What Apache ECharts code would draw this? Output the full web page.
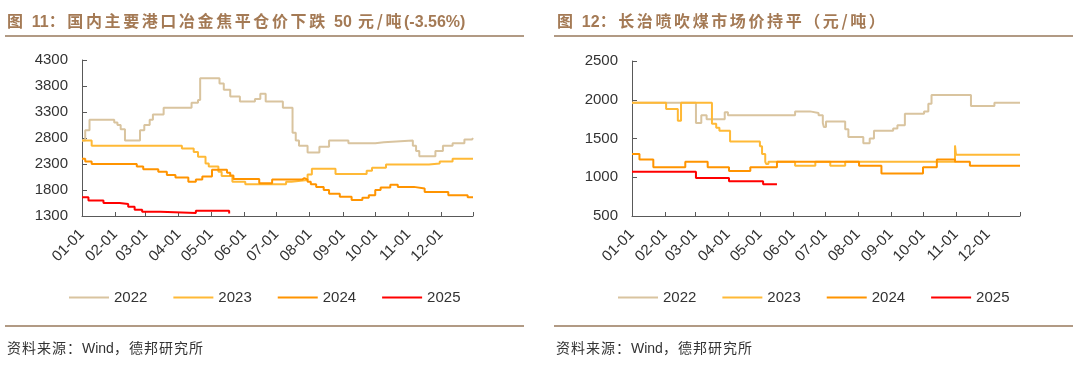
<!DOCTYPE html>
<html>
<head>
<meta charset="utf-8">
<script src="https://cdn.jsdelivr.net/npm/echarts@6/dist/echarts.min.js"></script>
<style>
  html, body { margin: 0; padding: 0; background: #fff; }
  #wrap { position: relative; width: 1080px; height: 366px; overflow: hidden; }
  #chart { position: absolute; left: 0; top: 0; width: 1080px; height: 366px; }
  .title { position: absolute; top: 9px; font-family: "Noto Sans CJK SC", sans-serif; font-weight: bold;
           font-size: 16px; line-height: 22px; color: #a47a55; letter-spacing: 2.6px; white-space: nowrap; }
  .title .num { font-family: "Liberation Sans", Arial, sans-serif; letter-spacing: 0; }
  .rule { position: absolute; height: 2px; background: #b19a84; }
  .src { position: absolute; top: 338px; font-family: "Noto Sans CJK SC", sans-serif; font-size: 14px;
         line-height: 18px; color: #333; letter-spacing: 1px; white-space: nowrap; }
  .src .num { font-family: "Liberation Sans", Arial, sans-serif; letter-spacing: 0; }
</style>
</head>
<body>
<div id="wrap">
  <div id="chart"></div>
  <div class="title" style="left:7px">图 <span class="num">11</span>：国内主要港口冶金焦平仓价下跌 <span class="num">50</span> 元/吨<span class="num">(-3.56%)</span></div>
  <div class="title" style="left:557px">图 <span class="num">12</span>：长治喷吹煤市场价持平（元/吨）</div>
  <div class="rule" style="left:5px; width:519px; top:35px"></div>
  <div class="rule" style="left:554px; width:519px; top:35px"></div>
  <div class="rule" style="left:5px; width:519px; top:325px"></div>
  <div class="rule" style="left:554px; width:519px; top:325px"></div>
  <div class="src" style="left:7px">资料来源：<span class="num">Wind</span>，德邦研究所</div>
  <div class="src" style="left:556px">资料来源：<span class="num">Wind</span>，德邦研究所</div>
</div>
<script>
// ---- tick labels ----
const monthTicks = ['01-01','02-01','03-01','04-01','05-01','06-01','07-01','08-01','09-01','10-01','11-01','12-01'];
const seriesNames = ['2022','2023','2024','2025'];
const leftTicks = [1300, 4300, 500];   // min, max, interval
const rightTicks = [500, 2500, 500];

// ---- chart 1: 国内主要港口冶金焦平仓价 (元/吨), step points [MM-DD, value] ----
const coke2022 = [['01-01',2750],['01-04',2950],['01-08',3150],['01-31',3100],['02-03',3050],['02-06',2970],['02-10',2750],['02-24',2950],['02-28',3050],['03-05',3150],['03-08',3250],['03-18',3380],['04-13',3480],['04-19',3530],['04-21',3950],['05-09',3850],['05-13',3730],['05-19',3600],['05-28',3500],['06-11',3550],['06-16',3650],['06-21',3500],['07-07',3380],['07-16',2900],['07-19',2750],['07-22',2650],['07-30',2520],['08-10',2630],['08-19',2750],['09-06',2700],['10-01',2720],['10-09',2750],['11-05',2650],['11-08',2550],['11-11',2450],['11-26',2550],['12-03',2650],['12-12',2700],['12-23',2770],['12-30',2800],['12-31',2800]];
const coke2023 = [['01-01',2750],['01-10',2650],['04-04',2600],['04-15',2530],['04-19',2440],['04-26',2310],['04-29',2250],['05-08',2150],['05-11',2070],['05-21',1960],['06-02',1910],['07-10',1960],['07-15',1990],['07-30',2100],['08-03',2210],['08-25',2110],['09-23',2170],['09-28',2230],['10-11',2290],['11-20',2310],['11-30',2350],['12-12',2400],['12-31',2400]];
const coke2024 = [['01-01',2400],['01-04',2350],['01-10',2300],['02-21',2250],['02-27',2200],['03-13',2150],['03-21',2090],['03-29',2040],['04-10',1960],['04-17',2000],['04-23',2060],['05-02',2190],['05-16',2130],['05-19',2080],['05-22',2010],['06-15',1930],['06-27',2000],['07-25',2030],['07-27',2000],['07-30',1960],['08-02',1910],['08-07',1860],['08-14',1800],['08-19',1730],['08-29',1670],['09-09',1610],['09-19',1650],['09-25',1700],['10-01',1800],['10-06',1850],['10-15',1900],['10-22',1860],['11-06',1830],['11-16',1760],['12-08',1700],['12-26',1660],['12-31',1660]];
const coke2025 = [['01-01',1660],['01-07',1600],['01-21',1550],['02-05',1530],['02-13',1480],['02-19',1420],['02-26',1380],['03-15',1360],['04-17',1400],['05-16',1400],['05-18',1350]];

// ---- chart 2: 长治喷吹煤市场价 (元/吨) ----
const coal2022 = [['01-01',1960],['03-02',1700],['03-07',1800],['03-12',1750],['03-29',1840],['04-01',1800],['06-03',1850],['06-17',1830],['06-25',1800],['06-29',1700],['06-30',1650],['07-02',1720],['07-20',1620],['07-23',1520],['08-06',1440],['08-12',1500],['08-16',1600],['09-03',1630],['09-07',1670],['09-14',1820],['10-02',1850],['10-06',1950],['10-09',2060],['11-15',1920],['12-07',1960],['12-31',1960]];
const coal2023 = [['01-01',1960],['02-02',1880],['02-13',1730],['02-16',1960],['03-17',1690],['03-21',1640],['03-24',1600],['04-03',1460],['05-01',1400],['05-03',1300],['05-06',1200],['05-07',1170],['05-09',1200],['06-03',1150],['06-22',1200],['07-06',1150],['07-20',1200],['10-31',1410],['11-01',1290],['12-31',1290]];
const coal2024 = [['01-01',1300],['01-08',1230],['01-21',1130],['02-20',1200],['03-13',1130],['04-02',1080],['04-22',1130],['05-17',1200],['08-02',1150],['08-23',1050],['10-01',1130],['10-14',1230],['10-31',1200],['11-14',1150],['12-31',1150]];
const coal2025 = [['01-01',1070],['03-02',990],['04-02',950],['05-04',910],['05-17',910]];

const colors = ['#d9c49f', '#ffb936', '#ff9400', '#ff0000'];

// calendar days of the axis
const monthLen = [31,28,31,30,31,30,31,31,30,31,30,31];
const days = [];
monthLen.forEach((n, m) => { for (let d = 1; d <= n; d++) days.push(String(m + 1).padStart(2, '0') + '-' + String(d).padStart(2, '0')); });

const axisColor = '#595959';
const labelFont = { color: '#333', fontSize: 15, fontFamily: 'Liberation Sans, Arial, sans-serif' };

function xAxis(gi) {
  return {
    type: 'category', gridIndex: gi, data: days, boundaryGap: false,
    axisLine: { lineStyle: { color: axisColor, width: 1 } },
    axisTick: { inside: true, length: 4, lineStyle: { color: axisColor },
      interval: (i, v) => monthTicks.includes(v) || i === days.length - 1 },
    axisLabel: Object.assign({ rotate: 45, margin: 16,
      interval: (i, v) => monthTicks.includes(v) }, labelFont),
    splitLine: { show: false }
  };
}
function yAxis(gi, t) {
  return {
    type: 'value', gridIndex: gi, min: t[0], max: t[1], interval: t[2],
    axisLine: { show: true, lineStyle: { color: axisColor, width: 1 } },
    axisTick: { show: true, inside: true, length: 5, lineStyle: { color: axisColor } },
    axisLabel: Object.assign({ margin: 14, formatter: v => String(v) }, labelFont),
    splitLine: { show: false }
  };
}
function lines(gi, arrs) {
  return arrs.map((d, k) => ({
    name: seriesNames[k], type: 'line', xAxisIndex: gi, yAxisIndex: gi,
    data: d, step: 'end', symbol: 'none', animation: false,
    lineStyle: { color: colors[k], width: 2 }, itemStyle: { color: colors[k] }, z: 2 + k
  }));
}
function legend(left) {
  return { left: left, top: 290, padding: 0, icon: 'rect', itemWidth: 40, itemHeight: 2, itemGap: 26,
    data: seriesNames, textStyle: { color: '#333', fontSize: 15, fontFamily: 'Liberation Sans, Arial, sans-serif' } };
}

const chart = echarts.init(document.getElementById('chart'));
chart.setOption({
  animation: false,
  grid: [
    { left: 82, right: 607, top: 60, bottom: 150 },
    { left: 632, right: 60, top: 61, bottom: 150 }
  ],
  xAxis: [xAxis(0), xAxis(1)],
  yAxis: [yAxis(0, leftTicks), yAxis(1, rightTicks)],
  legend: [legend(69), legend(618)],
  series: lines(0, [coke2022, coke2023, coke2024, coke2025]).concat(lines(1, [coal2022, coal2023, coal2024, coal2025]))
});
</script>
</body>
</html>
